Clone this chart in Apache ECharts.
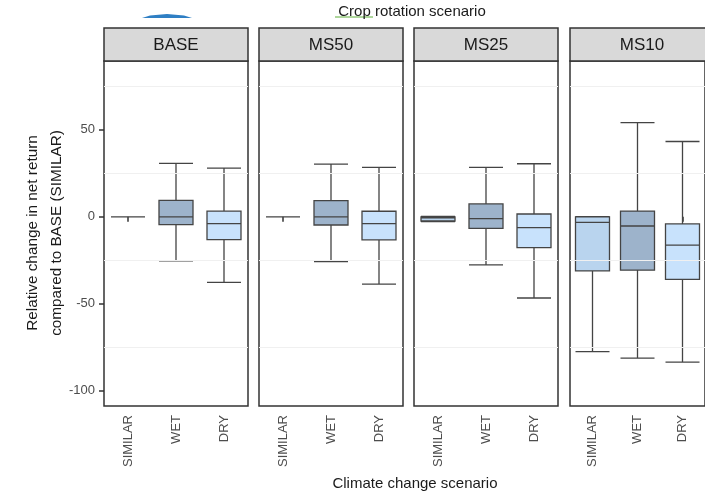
<!DOCTYPE html>
<html>
<head>
<meta charset="utf-8">
<script src="https://cdn.jsdelivr.net/npm/echarts@6/dist/echarts.min.js"></script>
<style>
  html, body { margin: 0; padding: 0; background: #fff; }
  #chart { width: 705px; height: 496px; }
</style>
</head>
<body>
<div id="chart"></div>
<script>
// facets and climate categories
const panels = ['BASE', 'MS50', 'MS25', 'MS10'];
const climates = ['SIMILAR', 'WET', 'DRY'];
// box stats per panel: [min, Q1, median, Q3, max] for SIMILAR, WET, DRY
const baseBoxes = [[0, 0, 0, 0, 0], [-25.3, -4.5, 0, 9.5, 30.7], [-37.7, -13.1, -3.9, 3.3, 28]];
const ms50Boxes = [[0, 0, 0, 0, 0], [-25.7, -4.7, 0, 9.3, 30.3], [-38.7, -13.3, -3.9, 3.2, 28.4]];
const ms25Boxes = [[-2.8, -2.4, -0.6, 0, 0.3], [-27.6, -6.6, -1.0, 7.4, 28.4], [-46.7, -17.7, -6.2, 1.6, 30.5]];
const ms10Boxes = [[-77.5, -31.1, -3.2, 0, 0.1], [-81.3, -30.7, -5.3, 3.3, 54.2], [-83.6, -36, -16.3, -4.1, 43.3]];
const allBoxes = [baseBoxes, ms50Boxes, ms25Boxes, ms10Boxes];
const yTicks = [-100, -50, 0, 50];
const yGrid = [-75, -25, 25, 75];
const boxColors = ['#b9d4ee', '#9db3cb', '#c8e2fc'];

const chart = echarts.init(document.getElementById('chart'));

const gridLefts = [104, 259, 414, 570];
const gridTop = 61, gridH = 345, gridW = 144;

let grids = [], xAxes = [], yAxes = [], series = [], graphics = [];
panels.forEach(function (p, i) {
  grids.push({
    left: gridLefts[i], top: gridTop, width: gridW, height: gridH,
    show: true, borderColor: '#333', borderWidth: 1.5, backgroundColor: '#fff'
  });
  xAxes.push({
    type: 'category', gridIndex: i, data: climates,
    axisLine: { show: false },
    axisTick: { show: true, alignWithLabel: true, length: 5, lineStyle: { color: '#333', width: 1.5 } },
    axisLabel: { rotate: 90, margin: 9, color: '#4d4d4d', fontSize: 13, fontFamily: 'Liberation Sans, Arial' },
    splitLine: { show: false }
  });
  yAxes.push({
    type: 'value', gridIndex: i, min: -108.8, max: 89.6,
    axisLine: { show: false },
    axisTick: { show: i === 0, customValues: yTicks, length: 5, lineStyle: { color: '#333', width: 1.5 } },
    axisLabel: { show: i === 0, customValues: yTicks, color: '#4d4d4d', fontSize: 13, margin: 9, fontFamily: 'Liberation Sans, Arial' },
    splitLine: { show: false }
  });
  // light minor grid lines
  series.push({
    type: 'line', xAxisIndex: i, yAxisIndex: i, data: [], z: 1, silent: true,
    markLine: {
      silent: true, symbol: 'none', label: { show: false },
      lineStyle: { color: '#f0f0f0', width: 1, type: 'solid' },
      data: yGrid.map(function (v) { return { yAxis: v }; })
    }
  });
  series.push({
    type: 'boxplot', name: p, xAxisIndex: i, yAxisIndex: i, z: 3,
    boxWidth: [34, 34],
    data: allBoxes[i].map(function (b, k) {
      return { value: b, itemStyle: { color: boxColors[k], borderColor: '#444', borderWidth: 1.3 } };
    })
  });
  // facet strip
  graphics.push({
    type: 'rect', shape: { x: gridLefts[i], y: 28, width: gridW, height: 33 },
    style: { fill: '#d9d9d9', stroke: '#333', lineWidth: 1.5 }
  });
  graphics.push({
    type: 'text', x: gridLefts[i] + gridW / 2, y: 45,
    style: { text: p, fill: '#1a1a1a', font: '17px "Liberation Sans", Arial', textAlign: 'center', textVerticalAlign: 'middle' }
  });
});

// stray marks at the top of the source image
graphics.push({
  type: 'polygon', shape: { points: [[142, 18], [150, 15.5], [167, 14], [184, 15.5], [192, 18]] },
  style: { fill: '#2f7fc4' }
});
graphics.push({
  type: 'line', shape: { x1: 335, y1: 17, x2: 373, y2: 17 },
  style: { stroke: '#5fae3a', lineWidth: 1 }
});

graphics.push({
  type: 'text', x: 412, y: 12,
  style: { text: 'Crop rotation scenario', fill: '#1a1a1a', font: '15px "Liberation Sans", Arial', textAlign: 'center', textVerticalAlign: 'middle' }
});
graphics.push({
  type: 'text', x: 415, y: 484,
  style: { text: 'Climate change scenario', fill: '#1a1a1a', font: '15px "Liberation Sans", Arial', textAlign: 'center', textVerticalAlign: 'middle' }
});
graphics.push({
  type: 'text', x: 45, y: 233, rotation: Math.PI / 2,
  style: { text: 'Relative change in net return\ncompared to BASE (SIMILAR)', fill: '#1a1a1a', font: '15.3px "Liberation Sans", Arial', textAlign: 'center', textVerticalAlign: 'middle', lineHeight: 24 }
});

chart.setOption({
  animation: false,
  grid: grids,
  xAxis: xAxes,
  yAxis: yAxes,
  series: series,
  graphic: graphics
});
</script>
</body>
</html>
